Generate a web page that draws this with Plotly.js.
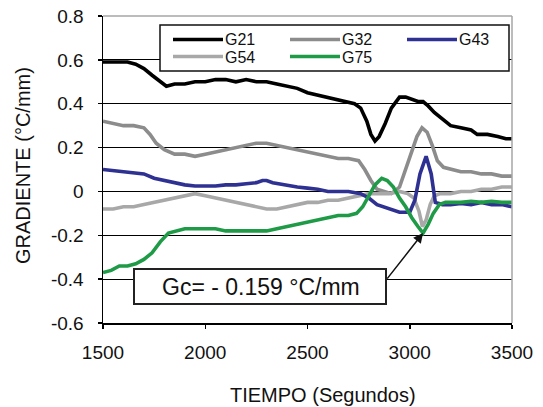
<!DOCTYPE html>
<html>
<head>
<meta charset="utf-8">
<script src="https://cdn.plot.ly/plotly-3.0.1.min.js"></script>
<style>html,body{margin:0;padding:0;background:#fff;}#chart{width:543px;height:407px;}</style>
</head>
<body>
<div id="chart"></div>
<script>
// ---- data ----
const seriesNames = ["G21", "G32", "G43", "G54", "G75"];

const t21 = [1500,1560,1620,1660,1700,1740,1780,1810,1850,1900,1950,2000,2050,2100,2150,2200,2250,2300,2350,2400,2450,2500,2550,2600,2650,2700,2730,2760,2790,2810,2830,2850,2880,2910,2950,2980,3010,3040,3065,3090,3120,3160,3200,3250,3300,3330,3380,3430,3470,3500];
const g21 = [0.59,0.59,0.59,0.58,0.56,0.53,0.50,0.48,0.49,0.49,0.50,0.50,0.51,0.51,0.50,0.51,0.50,0.50,0.49,0.48,0.47,0.45,0.44,0.43,0.42,0.41,0.40,0.38,0.32,0.26,0.23,0.25,0.31,0.38,0.43,0.43,0.42,0.41,0.41,0.39,0.36,0.33,0.30,0.29,0.28,0.26,0.26,0.25,0.24,0.24];

const t32 = [1500,1550,1600,1650,1700,1730,1760,1800,1850,1900,1950,2000,2050,2100,2150,2200,2250,2300,2350,2400,2450,2500,2550,2600,2650,2700,2750,2780,2810,2840,2870,2910,2950,2980,3010,3035,3060,3085,3110,3135,3165,3200,3250,3300,3350,3400,3450,3500];
const g32 = [0.32,0.31,0.30,0.30,0.29,0.26,0.22,0.19,0.17,0.17,0.16,0.17,0.18,0.19,0.20,0.21,0.22,0.22,0.21,0.20,0.19,0.18,0.17,0.16,0.15,0.15,0.14,0.10,0.05,0.01,0.00,-0.01,0.02,0.10,0.19,0.25,0.29,0.27,0.21,0.14,0.11,0.10,0.09,0.09,0.08,0.08,0.07,0.07];

const t43 = [1500,1550,1600,1650,1700,1750,1800,1850,1900,1950,2000,2050,2100,2150,2200,2250,2280,2300,2330,2380,2450,2500,2550,2600,2650,2700,2760,2800,2840,2900,2950,3000,3025,3050,3080,3105,3125,3160,3200,3250,3300,3350,3400,3450,3500];
const g43 = [0.10,0.095,0.09,0.085,0.08,0.06,0.05,0.04,0.03,0.025,0.025,0.025,0.03,0.03,0.035,0.04,0.05,0.05,0.04,0.03,0.02,0.015,0.01,0.0,0.0,0.0,-0.01,-0.03,-0.06,-0.08,-0.095,-0.095,-0.04,0.08,0.16,0.08,-0.05,-0.06,-0.06,-0.055,-0.06,-0.05,-0.06,-0.06,-0.07];

const t54 = [1500,1550,1600,1650,1700,1750,1800,1850,1900,1950,2000,2050,2100,2150,2200,2250,2300,2350,2400,2450,2500,2550,2600,2650,2700,2750,2800,2850,2900,2950,2990,3020,3045,3062,3080,3100,3120,3150,3200,3250,3300,3350,3400,3450,3500];
const g54 = [-0.08,-0.08,-0.07,-0.07,-0.06,-0.05,-0.04,-0.03,-0.02,-0.01,-0.02,-0.03,-0.04,-0.05,-0.06,-0.07,-0.08,-0.08,-0.07,-0.06,-0.05,-0.05,-0.04,-0.04,-0.03,-0.02,-0.01,-0.01,-0.01,0.00,-0.01,-0.03,-0.09,-0.16,-0.13,-0.06,-0.02,-0.01,-0.01,0.00,0.00,0.01,0.01,0.02,0.02];

const t75 = [1500,1540,1580,1620,1660,1700,1740,1780,1820,1860,1900,1950,2000,2050,2100,2150,2200,2250,2300,2350,2400,2450,2500,2550,2600,2650,2700,2740,2770,2800,2830,2863,2890,2920,2950,2980,3010,3040,3065,3090,3115,3145,3175,3200,3250,3300,3350,3400,3450,3500];
const g75 = [-0.37,-0.36,-0.34,-0.34,-0.33,-0.31,-0.28,-0.23,-0.19,-0.18,-0.17,-0.17,-0.17,-0.17,-0.18,-0.18,-0.18,-0.18,-0.18,-0.17,-0.16,-0.15,-0.14,-0.13,-0.12,-0.11,-0.11,-0.10,-0.07,-0.02,0.03,0.06,0.05,0.02,-0.03,-0.07,-0.12,-0.16,-0.19,-0.15,-0.10,-0.06,-0.05,-0.05,-0.05,-0.045,-0.05,-0.045,-0.05,-0.05];

const xTickVals = [1500, 2000, 2500, 3000, 3500];
const xTickText = ["1500", "2000", "2500", "3000", "3500"];
const yTickVals = [-0.6, -0.4, -0.2, 0, 0.2, 0.4, 0.6, 0.8];
const yTickText = ["-0.6", "-0.4", "-0.2", "0", "0.2", "0.4", "0.6", "0.8"];

const annotText = "Gc= - 0.159 °C/mm";
const annotPoint = {x: 3065, y: -0.19};
const xTitle = "TIEMPO (Segundos)";
const yTitle = "GRADIENTE (°C/mm)";

// ---- styling / layout ----
const colors = {G21: "#000000", G32: "#8c8c8c", G43: "#2e3192", G54: "#a8a8a8", G75: "#1f9b48"};
const FONT = "Liberation Sans, Arial, sans-serif";
const W = 543, H = 407, ML = 103, MR = 31, MT = 16, MB = 84;
const PW = W - ML - MR, PH = H - MT - MB;
const px = v => (v - ML) / PW;
const py = v => (H - MB - v) / PH;

const data = {G21: [t21, g21], G32: [t32, g32], G43: [t43, g43], G54: [t54, g54], G75: [t75, g75]};
const drawOrder = ["G21", "G32", "G54", "G43", "G75"];
const traces = drawOrder.map(n => ({
  type: "scatter", mode: "lines", name: n,
  x: data[n][0], y: data[n][1],
  line: {color: colors[n], width: 3.6},
  showlegend: false, hoverinfo: "skip"
}));

const shapes = [
  {type: "line", xref: "paper", yref: "paper", x0: 0, x1: 1, y0: 1, y1: 1, line: {color: "#a6a6a6", width: 1.5}, layer: "above"},
  {type: "line", xref: "paper", yref: "paper", x0: 1, x1: 1, y0: 0, y1: 1, line: {color: "#a6a6a6", width: 1.5}, layer: "above"},
  {type: "rect", xref: "paper", yref: "paper", x0: px(160), x1: px(509), y0: py(71), y1: py(25),
   fillcolor: "#ffffff", line: {color: "#111", width: 1.5}, layer: "above"},
  {type: "rect", xref: "paper", yref: "paper", x0: px(134), x1: px(386), y0: py(304), y1: py(269),
   fillcolor: "#ffffff", line: {color: "#222", width: 2}, layer: "above"}
];

const annotations = [];
const legendPos = [
  {n: "G21", x: 173, ly: 39.5, ty: 39},
  {n: "G32", x: 290, ly: 39.5, ty: 39},
  {n: "G43", x: 407, ly: 39.5, ty: 39},
  {n: "G54", x: 173, ly: 56.5, ty: 58},
  {n: "G75", x: 290, ly: 56.5, ty: 58}
];
legendPos.forEach(p => {
  shapes.push({type: "line", xref: "paper", yref: "paper", x0: px(p.x), x1: px(p.x + 50), y0: py(p.ly), y1: py(p.ly),
    line: {color: colors[p.n], width: 3.6}, layer: "above"});
  annotations.push({xref: "paper", yref: "paper", x: px(p.x + 51), y: py(p.ty), xanchor: "left", yanchor: "middle",
    text: p.n, showarrow: false, font: {family: FONT, size: 16, color: "#111"}, borderpad: 0});
});

annotations.push({xref: "paper", yref: "paper", x: px(261), y: py(287), xanchor: "center", yanchor: "middle",
  text: annotText, showarrow: false, font: {family: FONT, size: 23, color: "#111"}});
annotations.push({xref: "x", yref: "y", x: annotPoint.x, y: annotPoint.y, text: "", showarrow: true,
  ax: 387 - 424, ay: 281 - 234, arrowhead: 2, arrowsize: 1.3, arrowwidth: 1.5, arrowcolor: "#111", standoff: 0});
annotations.push({xref: "paper", yref: "paper", x: px(323), y: py(395), xanchor: "center", yanchor: "middle",
  text: xTitle, showarrow: false, font: {family: FONT, size: 20, color: "#111"}});
annotations.push({xref: "paper", yref: "paper", x: px(23), y: py(166), xanchor: "center", yanchor: "middle",
  text: yTitle, textangle: -90, showarrow: false, font: {family: FONT, size: 20, color: "#111"}});

const layout = {
  width: W, height: H,
  margin: {l: ML, r: MR, t: MT, b: MB, pad: 0},
  paper_bgcolor: "#ffffff", plot_bgcolor: "#ffffff",
  showlegend: false,
  font: {family: FONT, size: 19, color: "#111"},
  xaxis: {
    range: [1500, 3500], tickmode: "array", tickvals: xTickVals, ticktext: xTickText,
    showgrid: false, zeroline: false, showline: true, linecolor: "#000", linewidth: 1.5,
    ticks: "outside", ticklen: 4, tickwidth: 1.5, tickcolor: "#000",
    tickfont: {family: FONT, size: 19, color: "#111"}, ticklabelstandoff: 8, fixedrange: true
  },
  yaxis: {
    range: [-0.6, 0.8], tickmode: "array", tickvals: yTickVals, ticktext: yTickText,
    showgrid: true, gridcolor: "#000", gridwidth: 1, zeroline: false,
    showline: true, linecolor: "#000", linewidth: 1.5,
    ticks: "outside", ticklen: 4, tickwidth: 1.5, tickcolor: "#000",
    tickfont: {family: FONT, size: 19, color: "#111"}, ticklabelstandoff: 10, fixedrange: true
  },
  shapes: shapes,
  annotations: annotations
};

Plotly.newPlot("chart", traces, layout, {staticPlot: true, displayModeBar: false});
</script>
</body>
</html>
